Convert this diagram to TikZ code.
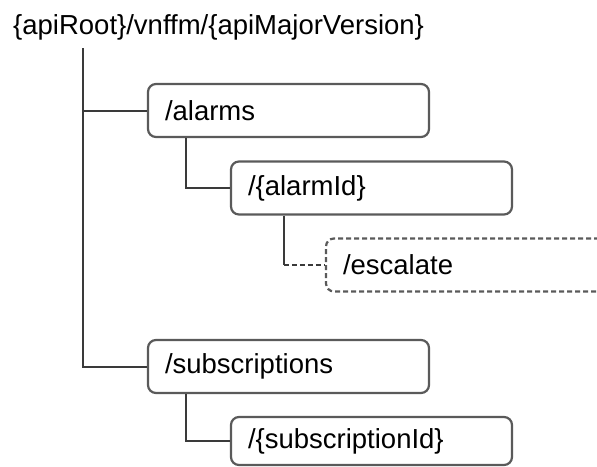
\documentclass[tikz,border=0pt]{standalone}
\usepackage{fontspec}
\setmainfont{Liberation Sans}
\usepackage{tikz}
\usetikzlibrary{positioning,calc}
\usepackage{xcolor}

\definecolor{boxline}{HTML}{5A5A5A}
\definecolor{linkline}{HTML}{3A3A3A}

\tikzset{
    resource/.style={draw=boxline, line width=2.2pt, rounded corners=8pt,
        text width=247pt, inner xsep=17pt, inner ysep=0pt,
        minimum height=53pt, align=left, font=\fontsize{27.5}{32}\selectfont},
    link/.style={draw=linkline, line width=2pt},
    dashline/.style={dash pattern=on 5pt off 3pt}
}

\begin{document}
\begin{tikzpicture}[x=1pt, y=-1pt]
        \clip (0,0) rectangle (597,466);
        \useasboundingbox (0,0) rectangle (597,466);

        \node[anchor=base west, inner sep=0pt, font=\fontsize{27.5}{32}\selectfont] (root) at (13,34) {\{apiRoot\}/vnffm/\{apiMajorVersion\}};
        \coordinate (rootline) at (83,48);

        \node[resource] (alarms) at (288.5,110.5) {/alarms};
        \node[resource] (alarmid) at (371.5,188) {/\{alarmId\}};
        \node[resource, dashline] (escalate) at (466.5,265) {/escalate};
        \node[resource] (subscriptions) at (288.5,366.5) {/subscriptions};
        \node[resource, minimum height=48pt] (subscriptionid) at (371.5,441) {/\{subscriptionId\}};

        \draw[link] (rootline) |- (alarms.west);
        \draw[link] (rootline) |- (subscriptions.west);
        \draw[link] ([xshift=39pt]alarms.south west) |- (alarmid.west);
        \draw[link] ([xshift=39pt]subscriptions.south west) |- (subscriptionid.west);

        \coordinate (esctop) at ([xshift=54pt]alarmid.south west);
        \draw[link] (esctop) -- (esctop |- escalate.west);
        \draw[link, dashline] (esctop |- escalate.west) -- (escalate.west);
    \end{tikzpicture}
\end{document}
